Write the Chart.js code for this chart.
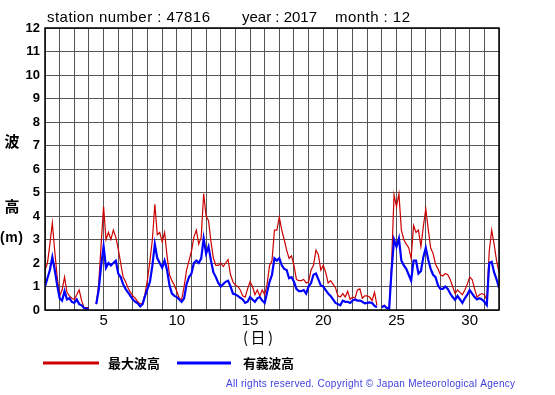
<!DOCTYPE html>
<html>
<head>
<meta charset="utf-8">
<script src="https://cdn.jsdelivr.net/npm/chart.js@4.4.1/dist/chart.umd.min.js"></script>
<style>
  html, body { margin: 0; padding: 0; background: #ffffff; }
  #wrap { position: relative; width: 555px; height: 395px; }
  canvas { display: block; }
</style>
</head>
<body>
<div id="wrap"><canvas id="c" width="555" height="395"></canvas></div>
<script>
// ---- data (values every 4 hours, 6 per day, day 1 00:00 .. day 32 00:00) ----
const STEPS_PER_DAY = 6;
const dayStart = 1;
const xTickLabels = [5, 10, 15, 20, 25, 30];
const yTickLabels = [0,1,2,3,4,5,6,7,8,9,10,11,12];

const maxWave = [
  1.7, 2.0, 2.8, 3.7, 2.5, 1.4,
  0.6, 0.85, 1.4, 0.75, 0.6, 0.5,
  0.45, 0.65, 0.85, 0.4, 0.1, 0.1,
  0.1, null, null, 0.25, 1.1, 2.8,
  4.4, 3.0, 3.3, 3.0, 3.4, 3.1,
  2.6, 2.0, 1.4, 1.2, 0.95, 0.75,
  0.6, 0.5, 0.35, 0.25, 0.3, 0.7,
  1.3, 2.1, 3.0, 4.5, 3.2, 3.3,
  2.9, 3.3, 2.3, 1.5, 1.25, 1.05,
  0.8, 0.5, 0.45, 1.0, 1.7, 2.1,
  2.5, 3.1, 3.4, 2.8, 3.1, 4.95,
  4.0, 3.8, 2.9, 2.2, 1.9, 1.9,
  2.0, 1.85, 2.0, 2.15, 1.5, 1.2,
  1.05, 1.0, 0.85, 0.6, 0.55, 0.9,
  1.2, 1.0, 0.65, 0.85, 0.6, 0.85,
  0.65, 1.1, 1.9, 2.1, 3.4, 3.4,
  3.95, 3.4, 3.0, 2.55, 2.2, 2.3,
  1.9, 1.3, 1.25, 1.25, 1.3, 1.15,
  1.2, 1.7, 1.9, 2.55, 2.35, 1.7,
  1.9, 1.6, 1.15, 1.25, 1.1, 0.95,
  0.6, 0.55, 0.7, 0.55, 0.8, 0.45,
  0.55, 0.5, 0.85, 0.9, 0.5, 0.6,
  0.6, 0.55, 0.4, 0.75, 0.2, null,
  0.15, 0.2, 0.1, 0.08, 2.0, 4.9,
  4.4, 4.95, 3.4, 3.0, 2.8, 2.65,
  2.2, 3.6, 3.3, 3.4, 2.7, 3.55,
  4.3, 3.45, 2.65, 2.4, 1.95, 1.75,
  1.5, 1.45, 1.55, 1.5, 1.3, 1.0,
  0.7, 0.85, 0.75, 0.65, 0.85, 1.1,
  1.4, 1.3, 0.9, 0.55, 0.65, 0.7,
  0.65, 0.43, 2.5, 3.4, 2.8, 2.1,
  1.6
];

const sigWave = [
  1.0, 1.35, 1.7, 2.25, 1.7, 1.05,
  0.5, 0.4, 0.8, 0.45, 0.5, 0.35,
  0.3, 0.45, 0.25, 0.2, 0.08, 0.05,
  0.05, null, null, 0.25, 0.85, 1.9,
  2.7, 1.8, 2.0, 1.9, 2.0, 2.1,
  1.55, 1.4, 1.1, 0.9, 0.75, 0.6,
  0.45, 0.35, 0.28, 0.15, 0.25, 0.6,
  0.9, 1.2, 1.9, 2.8, 2.2, 2.0,
  1.8, 2.1, 1.7, 1.05, 0.7, 0.6,
  0.55, 0.45, 0.35, 0.5, 1.1, 1.4,
  1.55, 2.0, 2.1, 2.0, 2.2, 3.05,
  2.4, 2.7, 2.1, 1.6, 1.4, 1.15,
  1.0, 1.1, 1.2, 1.25, 1.0, 0.7,
  0.66, 0.6, 0.52, 0.45, 0.3, 0.35,
  0.55, 0.45, 0.35, 0.5, 0.55, 0.4,
  0.3, 0.75, 1.2, 1.5, 2.2, 2.1,
  2.2, 1.9, 1.75, 1.7, 1.35, 1.4,
  1.2, 0.9, 0.8, 0.8, 0.85, 0.7,
  1.0, 1.15, 1.5, 1.55, 1.3, 1.05,
  1.0, 0.85, 0.7, 0.6, 0.45, 0.3,
  0.25, 0.2, 0.4, 0.35, 0.35, 0.3,
  0.4, 0.45, 0.4, 0.4, 0.35, 0.28,
  0.3, 0.32, 0.3, 0.18, 0.12, null,
  0.12, 0.18, 0.08, 0.05, 1.7, 3.0,
  2.7, 3.05, 2.1, 1.9, 1.75, 1.5,
  1.25, 2.1, 2.1, 1.55, 1.65, 2.25,
  2.65, 2.15, 1.75, 1.5, 1.4, 1.05,
  0.9, 0.9, 1.0, 0.9, 0.7, 0.55,
  0.43, 0.6, 0.45, 0.3, 0.5, 0.65,
  0.85, 0.7, 0.55, 0.45, 0.5, 0.45,
  0.35, 0.21, 2.0, 2.05, 1.6, 1.3,
  0.95
];

const toPoints = arr => arr.map((v, i) => ({ x: dayStart + i / STEPS_PER_DAY, y: v }));

const FONT = '"Liberation Sans", Arial, Helvetica, sans-serif';
const CJK = '"Noto Sans CJK JP", "Noto Sans CJK SC", sans-serif';

function fitText(ctx, text, x, y, w) {
  ctx.letterSpacing = '0px';
  const m = ctx.measureText(text).width;
  const n = Math.max(text.length - 1, 1);
  ctx.letterSpacing = ((w - m) / n) + 'px';
  ctx.fillText(text, x, y);
  ctx.letterSpacing = '0px';
}

const extras = {
  id: 'extras',
  afterDraw(chart) {
    const ctx = chart.ctx;
    const a = chart.chartArea;
    ctx.save();
    // plot frame
    ctx.strokeStyle = '#000';
    ctx.lineWidth = 1.5;
    ctx.strokeRect(a.left, a.top, a.right - a.left, a.bottom - a.top);

    // title
    ctx.fillStyle = '#000';
    ctx.textBaseline = 'alphabetic';
    ctx.textAlign = 'left';
    ctx.font = '15px ' + FONT;
    fitText(ctx, 'station number : 47816', 47, 21.5, 163);
    fitText(ctx, 'year : 2017', 242, 21.5, 75);
    fitText(ctx, 'month : 12', 335, 21.5, 75);

    // y-axis label
    ctx.textBaseline = 'middle';
    ctx.textAlign = 'center';
    ctx.font = 'bold 15px ' + CJK;
    ctx.fillText('波', 12, 141);
    ctx.fillText('高', 12, 206);
    ctx.textAlign = 'left';
    ctx.font = 'bold 14px ' + FONT;
    fitText(ctx, '(m)', 0, 238, 23);

    // x-axis label
    ctx.textAlign = 'left';
    ctx.font = '15px ' + CJK;
    fitText(ctx, '(日)', 243, 337, 30);

    // legend
    ctx.lineWidth = 3;
    ctx.strokeStyle = '#cc0000';
    ctx.beginPath(); ctx.moveTo(43, 363); ctx.lineTo(99, 363); ctx.stroke();
    ctx.strokeStyle = '#0000ff';
    ctx.beginPath(); ctx.moveTo(177, 363); ctx.lineTo(231, 363); ctx.stroke();
    ctx.fillStyle = '#000';
    ctx.font = 'bold 13px ' + CJK;
    ctx.textBaseline = 'middle';
    fitText(ctx, '最大波高', 108, 363, 52);
    fitText(ctx, '有義波高', 243, 363, 51);

    // footer
    ctx.fillStyle = '#4040e0';
    ctx.font = '10px ' + FONT;
    fitText(ctx, 'All rights reserved. Copyright \u00a9 Japan Meteorological Agency', 226, 384, 289);
    ctx.restore();
  }
};

new Chart(document.getElementById('c'), {
  type: 'line',
  data: {
    datasets: [
      {
        label: '最大波高',
        data: toPoints(maxWave),
        borderColor: '#cc0000',
        borderWidth: 1.2,
        pointRadius: 0,
        tension: 0,
        spanGaps: false,
        order: 2
      },
      {
        label: '有義波高',
        data: toPoints(sigWave),
        borderColor: '#0000ff',
        borderWidth: 2.2,
        pointRadius: 0,
        tension: 0,
        spanGaps: false,
        order: 1
      }
    ]
  },
  options: {
    responsive: false,
    animation: false,
    devicePixelRatio: 1,
    layout: { padding: { top: 28, right: 56, bottom: 0, left: 0 } },
    plugins: {
      legend: { display: false },
      title: { display: false },
      tooltip: { enabled: false }
    },
    scales: {
      x: {
        type: 'linear',
        min: 1,
        max: 32,
        afterFit(s) { s.height = 85; },
        afterBuildTicks(s) {
          const t = [];
          for (let d = 1; d <= 32; d++) t.push({ value: d });
          s.ticks = t;
        },
        ticks: {
          autoSkip: false,
          maxRotation: 0,
          padding: 2,
          color: '#000',
          font: { family: FONT, size: 15 },
          callback: v => xTickLabels.includes(v) ? String(v) : ''
        },
        grid: { color: '#555', lineWidth: 1, drawTicks: false },
        border: { display: false }
      },
      y: {
        min: 0,
        max: 12,
        afterFit(s) { s.width = 45; },
        afterBuildTicks(s) { s.ticks = yTickLabels.map(v => ({ value: v })); },
        ticks: {
          padding: 5,
          color: '#000',
          font: { family: FONT, size: 13, weight: 'bold' }
        },
        grid: { color: '#555', lineWidth: 1, drawTicks: false },
        border: { display: false }
      }
    }
  },
  plugins: [extras]
});
</script>
</body>
</html>
